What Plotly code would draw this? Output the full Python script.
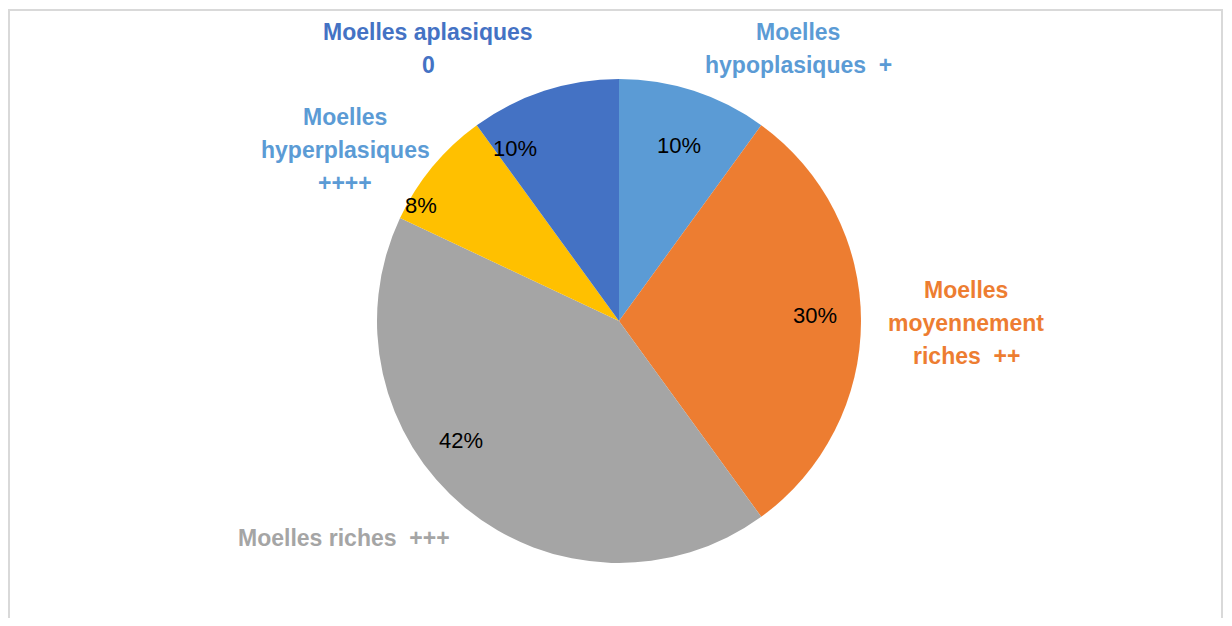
import plotly.graph_objects as go

W, H = 1224, 610
OFF = 8  # page body margin

categories = ["Moelles hypoplasiques +", "Moelles moyennement riches ++",
              "Moelles riches +++", "Moelles hyperplasiques ++++",
              "Moelles aplasiques 0"]
percent_values = [10, 30, 42, 8, 10]
slice_colors = ["#5B9BD5", "#ED7D31", "#A5A5A5", "#FFC000", "#4472C4"]
label_colors = ["#5B9BD5", "#ED7D31", "#A5A5A5", "#5B9BD5", "#4472C4"]

# outside label texts (line by line)
label_lines = [
    ["Moelles", "hypoplasiques  +"],
    ["Moelles", "moyennement", "riches  ++"],
    ["Moelles riches  +++"],
    ["Moelles", "hyperplasiques", "++++"],
    ["Moelles aplasiques", "0"],
]
# label anchors (page pixels)
label_pos = [(798, 32), (966, 290), (344, 538), (345, 117), (428, 32)]
pct_pos = [(679, 145), (815, 315), (461, 440), (421, 205), (515, 148)]
LINE_STEP = 33


def px(x):
    return (x - OFF) / W


def py(y):
    return 1 - (y - OFF) / H


cx, cy, r = 619, 321, 242

fig = go.Figure()
fig.add_trace(go.Pie(
    labels=categories,
    values=percent_values,
    marker=dict(colors=slice_colors, line=dict(width=0)),
    sort=False,
    direction="clockwise",
    rotation=0,
    textinfo="none",
    showlegend=False,
    hoverinfo="label+value",
    domain=dict(x=[px(cx - r), px(cx + r)], y=[py(cy + r), py(cy - r)]),
))

annotations = []
for lines, (x0, y0), col in zip(label_lines, label_pos, label_colors):
    for i, t in enumerate(lines):
        annotations.append(dict(
            x=px(x0), y=py(y0 + i * LINE_STEP), xref="paper", yref="paper",
            text=t, showarrow=False, xanchor="center", yanchor="middle",
            font=dict(family="Liberation Sans", size=23, color=col, weight="bold"),
        ))

for v, (x0, y0) in zip(percent_values, pct_pos):
    annotations.append(dict(
        x=px(x0), y=py(y0), xref="paper", yref="paper",
        text=f"{v}%", showarrow=False, xanchor="center", yanchor="middle",
        font=dict(family="Liberation Sans", size=22, color="black"),
    ))

fig.update_layout(
    width=W, height=H,
    margin=dict(l=0, r=0, t=0, b=0),
    paper_bgcolor="white",
    plot_bgcolor="white",
    annotations=annotations,
    shapes=[dict(type="rect", xref="paper", yref="paper",
                 x0=px(9), x1=px(1222), y0=py(660), y1=py(10),
                 line=dict(color="#D9D9D9", width=2))],
)

fig.write_html("out.html")
